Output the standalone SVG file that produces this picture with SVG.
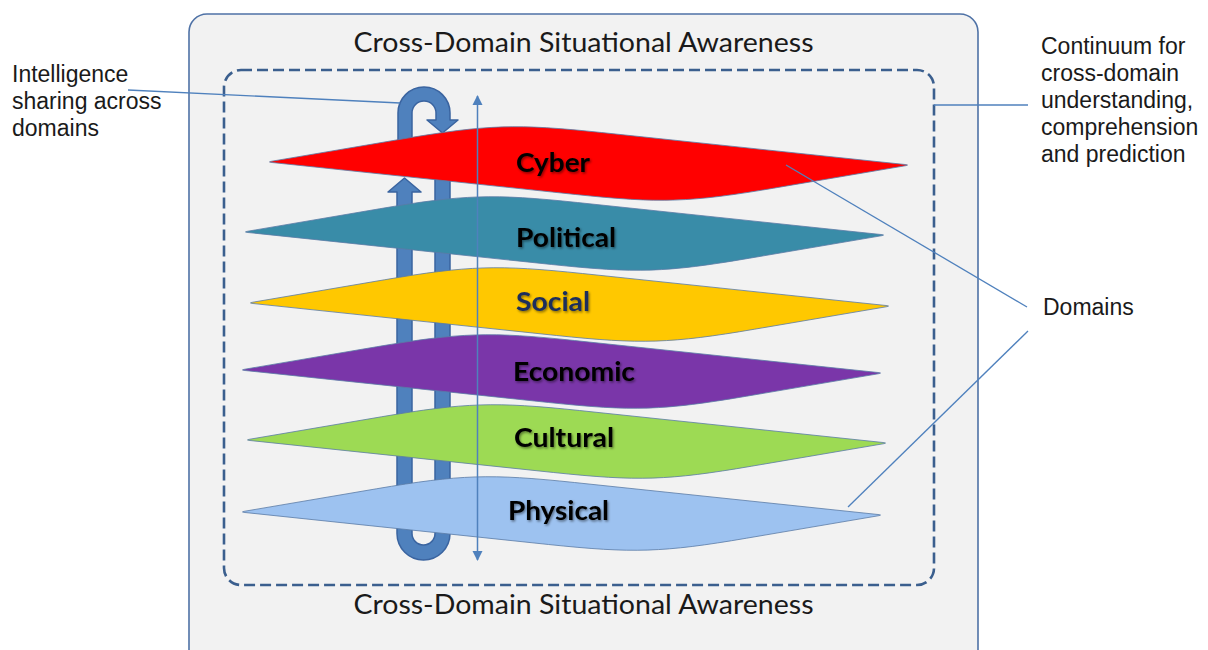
<svg xmlns="http://www.w3.org/2000/svg" width="1208" height="650" viewBox="0 0 1208 650">
<style>
.side{font-family:"Liberation Sans",Arial,sans-serif;font-size:23px;fill:#1a1a1a}
.title{font-family:Lato,"Liberation Sans",sans-serif;font-size:26px;fill:#1a1a1a}
.lbl{font-family:Lato,"Liberation Sans",sans-serif;font-size:27px;font-weight:bold;fill:#000;filter:url(#sh)}
.lead{stroke:#4f81bd;stroke-width:1.3;fill:none}
.layer{stroke:#5b7ba6;stroke-width:0.8}
.band{fill:#4f81bd;stroke:#3a64a0;stroke-width:1.5;stroke-linejoin:round}
</style>
<defs>
<filter id="sh" x="-10%" y="-20%" width="130%" height="160%">
<feDropShadow dx="1.2" dy="1.5" stdDeviation="0.9" flood-color="#000" flood-opacity="0.45"/>
</filter>
<path id="slab" d="M 4.9,-0.8 L 136.4,-23.2 C 220.2,-37.5 249.9,-38.4 334.4,-29.5 L 638,2.5 Q 643,3 638.1,3.8 L 506.6,26.2 C 422.8,40.5 393.1,41.4 308.6,32.5 L 5,0.5 Q 0,0 4.9,-0.8 Z"/>
<marker id="ah" viewBox="0 0 10 12" refX="9" refY="6" markerWidth="10" markerHeight="12" markerUnits="userSpaceOnUse" orient="auto-start-reverse">
<path d="M0,1 L10,6 L0,11 Z" fill="#4f81bd"/>
</marker>
</defs>
<rect width="1208" height="650" fill="#ffffff"/>
<g id="frame">
<rect x="189" y="14" width="789" height="680" rx="18" fill="#f2f2f2" stroke="#4f72a6" stroke-width="1.6"/>
<text class="title" x="583.5" y="52" text-anchor="middle" textLength="460" lengthAdjust="spacingAndGlyphs">Cross-Domain Situational Awareness</text>
<rect x="224" y="70" width="710" height="515" rx="17" fill="none" stroke="#3b5f8e" stroke-width="2.6" stroke-dasharray="11,5"/>
<text class="title" x="583.5" y="614" text-anchor="middle" textLength="460" lengthAdjust="spacingAndGlyphs">Cross-Domain Situational Awareness</text>
</g>
<g id="loop-arrow">
<path class="band" d="M 398,160 L 398,113 A 26,26 0 0 1 450,113 L 450,120 L 458,120 L 442.5,133 L 427,120 L 436,120 L 436,113 A 12,12 0 0 0 412,113 L 412,160 Z"/>
<path class="band" d="M 397,192 L 388,192 L 404.5,178 L 421,192 L 412,192 L 412,533.5 A 11.5,11.5 0 0 0 435,533.5 L 435,140 L 450,140 L 450,533.5 A 26.5,26.5 0 0 1 397,533.5 Z"/>
</g>
<g id="cyber">
<use href="#slab" class="layer" fill="#ff0000" transform="translate(267,162)"/>
<text class="lbl" x="516" y="172" textLength="74" lengthAdjust="spacingAndGlyphs">Cyber</text>
</g>
<g id="political">
<use href="#slab" class="layer" fill="#398ca8" transform="translate(243,232)"/>
<text class="lbl" x="516" y="247" textLength="100" lengthAdjust="spacingAndGlyphs">Political</text>
</g>
<g id="social">
<use href="#slab" class="layer" fill="#ffc800" transform="translate(248,303)"/>
<text class="lbl" x="516" y="311" textLength="74" lengthAdjust="spacingAndGlyphs" style="fill:#1c2d5c">Social</text>
</g>
<g id="economic">
<use href="#slab" class="layer" fill="#7a36a9" transform="translate(240,370)"/>
<text class="lbl" x="513" y="381" textLength="122" lengthAdjust="spacingAndGlyphs">Economic</text>
</g>
<g id="cultural">
<use href="#slab" class="layer" fill="#9dda54" transform="translate(245,440)"/>
<text class="lbl" x="514" y="447" textLength="100" lengthAdjust="spacingAndGlyphs">Cultural</text>
</g>
<g id="physical">
<use href="#slab" class="layer" fill="#9dc2f0" transform="translate(240,512)"/>
<text class="lbl" x="508" y="520" textLength="101" lengthAdjust="spacingAndGlyphs">Physical</text>
</g>
<g id="connectors">
<line x1="477.5" y1="96" x2="477.5" y2="560" stroke="#4f81bd" stroke-width="1.5" marker-start="url(#ah)" marker-end="url(#ah)"/>
<line class="lead" x1="128" y1="90" x2="400" y2="103"/>
<line class="lead" x1="934" y1="105" x2="1028" y2="105"/>
<line class="lead" x1="786" y1="165" x2="1027" y2="307"/>
<line class="lead" x1="1028" y1="331" x2="848" y2="507"/>
</g>
<g id="label-intel">
<text class="side" x="12" y="82">Intelligence</text>
<text class="side" x="12" y="109">sharing across</text>
<text class="side" x="12" y="136">domains</text>
</g>
<g id="label-continuum">
<text class="side" x="1041" y="54">Continuum for</text>
<text class="side" x="1041" y="81">cross-domain</text>
<text class="side" x="1041" y="108">understanding,</text>
<text class="side" x="1041" y="135">comprehension</text>
<text class="side" x="1041" y="162">and prediction</text>
</g>
<g id="label-domains">
<text class="side" x="1043" y="315">Domains</text>
</g>
</svg>
